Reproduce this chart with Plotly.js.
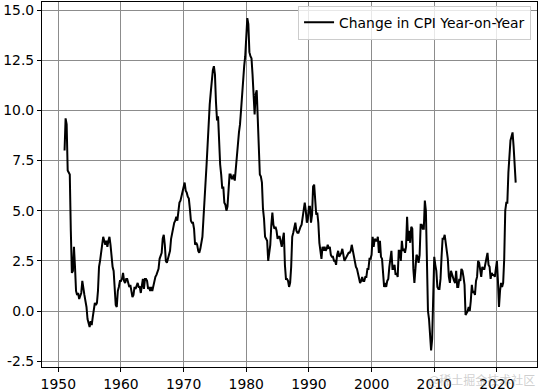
<!DOCTYPE html>
<html>
<head>
<meta charset="utf-8">
<script src="https://cdn.plot.ly/plotly-3.0.1.min.js"></script>
<style>html,body{margin:0;padding:0;background:#fff;}#chart{width:540px;height:390px;}</style>
</head>
<body>
<div id="chart"></div>
<script>
// Sampled months within each year (Jan, Mar, May, Jul, Sep, Nov)
const sampleMonths = [1, 3, 5, 7, 9, 11];
const years = [];
for (let y = 1951; y <= 2023; y++) years.push(y);
// CPI year-on-year change (%), one row per year
const cpiRows = [
  [8.0, 9.6, 9.3, 7.0, 6.9, 6.8],      // 1951
  [4.0, 1.9, 2.0, 3.2, 2.2, 1.0],      // 1952
  [0.8, 0.9, 0.6, 0.8, 0.9, 1.5],      // 1953
  [1.0, 0.8, 0.5, 0.2, -0.4, -0.6],    // 1954
  [-0.8, -0.5, -0.7, -0.3, 0.2, 0.4],  // 1955
  [0.3, 0.4, 1.0, 2.2, 2.5, 2.9],      // 1956
  [3.2, 3.7, 3.5, 3.3, 3.5, 3.2],      // 1957
  [3.5, 3.7, 3.3, 2.6, 2.2, 2.0],      // 1958
  [1.3, 0.3, 0.2, 1.0, 1.2, 1.5],      // 1959
  [1.5, 1.6, 1.9, 1.5, 1.4, 1.6],      // 1960
  [1.6, 1.4, 1.2, 1.3, 1.0, 0.7],      // 1961
  [0.8, 1.2, 1.1, 1.3, 1.4, 1.2],      // 1962
  [1.2, 0.9, 1.4, 1.6, 1.1, 1.6],      // 1963
  [1.6, 1.5, 1.1, 1.2, 1.0, 1.2],      // 1964
  [1.0, 1.3, 1.6, 1.7, 1.8, 2.0],      // 1965
  [2.1, 2.6, 2.8, 2.9, 3.6, 3.8],      // 1966
  [3.3, 2.5, 2.4, 2.6, 2.8, 3.0],      // 1967
  [3.6, 3.9, 4.0, 4.4, 4.5, 4.7],      // 1968
  [4.5, 5.0, 5.4, 5.5, 5.7, 5.9],      // 1969
  [6.1, 6.4, 6.0, 5.9, 5.7, 5.6],      // 1970
  [5.1, 4.5, 4.4, 4.4, 4.1, 3.3],      // 1971
  [3.4, 3.3, 3.0, 2.9, 3.1, 3.4],      // 1972
  [3.7, 4.6, 5.5, 5.8, 7.3, 8.3],      // 1973
  [9.6, 10.3, 10.9, 11.5, 12.0, 12.2], // 1974
  [11.8, 10.4, 9.5, 9.7, 8.0, 7.3],    // 1975
  [6.8, 6.1, 6.2, 5.4, 5.3, 5.0],      // 1976
  [5.2, 6.4, 6.8, 6.8, 6.6, 6.6],      // 1977
  [6.8, 6.5, 7.0, 7.8, 8.3, 8.9],      // 1978
  [9.3, 10.0, 10.9, 11.3, 12.2, 12.7], // 1979
  [13.9, 14.6, 14.3, 12.9, 12.7, 12.6],// 1980
  [11.8, 10.5, 9.8, 10.8, 11.0, 9.6],  // 1981
  [8.4, 6.8, 6.7, 6.4, 5.1, 4.6],      // 1982
  [3.7, 3.6, 3.5, 2.5, 2.9, 3.3],      // 1983
  [4.3, 4.9, 4.3, 4.1, 4.2, 4.0],      // 1984
  [3.6, 3.7, 3.7, 3.5, 3.2, 3.6],      // 1985
  [3.9, 2.3, 1.6, 1.6, 1.5, 1.2],      // 1986
  [1.4, 2.2, 3.7, 3.9, 4.2, 4.4],      // 1987
  [4.0, 3.9, 3.9, 4.1, 4.2, 4.3],      // 1988
  [4.7, 5.0, 5.4, 5.0, 4.4, 4.6],      // 1989
  [5.2, 5.2, 4.4, 4.8, 6.2, 6.3],      // 1990
  [5.7, 4.8, 4.9, 4.4, 3.4, 3.0],      // 1991
  [2.6, 3.2, 3.0, 3.2, 3.0, 3.1],      // 1992
  [3.3, 3.1, 3.2, 2.8, 2.7, 2.7],      // 1993
  [2.5, 2.5, 2.3, 2.8, 3.0, 2.7],      // 1994
  [2.8, 2.9, 3.1, 2.8, 2.5, 2.6],      // 1995
  [2.7, 2.8, 2.9, 2.9, 3.0, 3.3],      // 1996
  [3.0, 2.8, 2.3, 2.2, 2.1, 1.8],      // 1997
  [1.6, 1.4, 1.5, 1.7, 1.5, 1.5],      // 1998
  [1.7, 1.7, 2.1, 2.1, 2.6, 2.6],      // 1999
  [2.8, 3.7, 3.2, 3.6, 3.5, 3.5],      // 2000
  [3.7, 2.9, 3.5, 2.7, 2.6, 1.9],      // 2001
  [1.2, 1.4, 1.2, 1.5, 1.6, 2.2],      // 2002
  [2.6, 3.0, 2.1, 2.1, 2.3, 1.8],      // 2003
  [1.9, 1.7, 3.0, 3.0, 2.5, 3.5],      // 2004
  [3.0, 3.1, 2.9, 3.2, 4.7, 3.5],      // 2005
  [4.0, 3.4, 4.2, 4.1, 2.1, 1.4],      // 2006
  [2.1, 2.8, 2.7, 2.4, 2.8, 4.3],      // 2007
  [4.3, 4.1, 4.1, 5.5, 5.0, 1.1],      // 2008
  [0.0, -0.4, -1.3, -1.96, -1.4, 1.8], // 2009
  [2.7, 2.3, 2.0, 1.2, 1.1, 1.1],      // 2010
  [1.6, 2.7, 3.6, 3.6, 3.8, 3.4],      // 2011
  [2.9, 2.6, 1.7, 1.4, 2.0, 1.8],      // 2012
  [1.6, 1.5, 1.4, 2.0, 1.2, 1.2],      // 2013
  [1.6, 1.5, 2.1, 2.0, 1.7, 1.3],      // 2014
  [-0.2, -0.1, 0.0, 0.2, 0.0, 0.5],    // 2015
  [1.3, 0.9, 1.0, 0.8, 1.5, 1.7],      // 2016
  [2.5, 2.4, 1.9, 1.7, 2.2, 2.1],      // 2017
  [2.1, 2.4, 2.8, 2.9, 2.3, 2.2],      // 2018
  [1.6, 1.9, 1.8, 1.8, 1.7, 2.1],      // 2019
  [2.5, 1.5, 0.2, 1.0, 1.4, 1.2],      // 2020
  [1.4, 2.6, 5.0, 5.4, 5.4, 6.9],      // 2021
  [7.6, 8.5, 8.7, 8.9, 8.2, 7.1],      // 2022
  [6.4]                                // 2023
];
const xTicks = [1950, 1960, 1970, 1980, 1990, 2000, 2010, 2020];
const yTicks = [-2.5, 0.0, 2.5, 5.0, 7.5, 10.0, 12.5, 15.0];
const seriesName = 'Change in CPI Year-on-Year';

const xs = [], ys = [];
cpiRows.forEach((row, i) => {
  row.forEach((v, j) => {
    xs.push(years[i] + (sampleMonths[j] - 1) / 12);
    ys.push(v);
  });
});

const font = {family: 'DejaVu Sans, sans-serif', size: 13.9, color: '#000'};
const trace = {
  x: xs, y: ys, type: 'scatter', mode: 'lines', name: seriesName,
  line: {color: '#000000', width: 2}
};
const layout = {
  width: 540, height: 390,
  margin: {l: 42, r: 3, t: 2, b: 23},
  paper_bgcolor: '#fff', plot_bgcolor: '#fff',
  font: font,
  showlegend: true,
  legend: {
    x: 0.988, y: 0.99, xanchor: 'right', yanchor: 'top',
    bgcolor: 'rgba(255,255,255,0.8)', bordercolor: '#cccccc', borderwidth: 1,
    font: font
  },
  xaxis: {
    range: [1947.4, 2026.4], tickmode: 'array', tickvals: xTicks,
    ticktext: xTicks.map(String),
    showgrid: true, gridcolor: '#8c8c8c', gridwidth: 1,
    zeroline: false, showline: true, mirror: true, linecolor: '#000', linewidth: 1,
    ticks: 'outside', ticklen: 4, tickcolor: '#000', tickfont: font
  },
  yaxis: {
    range: [-2.79, 15.4], tickmode: 'array', tickvals: yTicks,
    ticktext: yTicks.map(v => v.toFixed(1)),
    showgrid: true, gridcolor: '#8c8c8c', gridwidth: 1,
    zeroline: false, showline: true, mirror: true, linecolor: '#000', linewidth: 1,
    ticks: 'outside', ticklen: 4, tickcolor: '#000', tickfont: font
  },
  annotations: [{
    text: '@稀土掘金技术社区', xref: 'paper', yref: 'paper',
    x: 1, y: 0, xanchor: 'right', yanchor: 'top', yshift: -2,
    showarrow: false,
    font: {family: 'Noto Sans CJK SC, sans-serif', size: 12, color: 'rgba(160,160,160,0.5)'}
  }]
};
Plotly.newPlot('chart', [trace], layout, {displayModeBar: false, staticPlot: true});
</script>
</body>
</html>
